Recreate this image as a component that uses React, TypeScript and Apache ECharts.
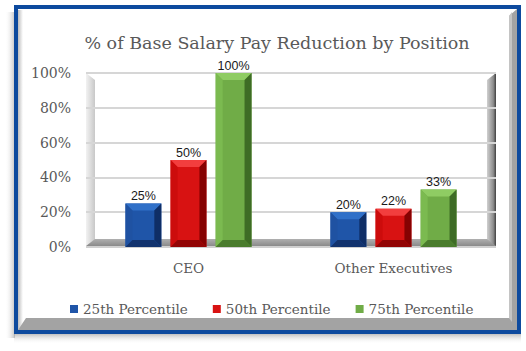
import React, { useEffect, useRef } from "react";
import * as echarts from "echarts";

const categories = ["CEO", "Other Executives"];
const seriesNames = ["25th Percentile", "50th Percentile", "75th Percentile"];
const p25 = [25, 20];
const p50 = [50, 22];
const p75 = [100, 33];
const yTicks = [0, 20, 40, 60, 80, 100];

const palettes = [
  { main: "#1F55A8", top: "#3070C8", left: "#1F52A2", right: "#0F2E66", bottom: "#12336E" },
  { main: "#D81212", top: "#F23E3E", left: "#CC0C0C", right: "#860202", bottom: "#920505" },
  { main: "#70AC47", top: "#8FCC63", left: "#7BBA50", right: "#3E6C25", bottom: "#4A7C2D" },
];

const SERIF = "'DejaVu Serif', serif";
const GREY = "#595959";

export default function App() {
  const ref = useRef<HTMLDivElement>(null);
  useEffect(() => {
    if (!ref.current) return;
    const chart = echarts.init(ref.current, null, { renderer: "svg" });
    const allValues = [p25, p50, p75];

    const makeSeries = (idx: number) => ({
      type: "custom",
      name: seriesNames[idx],
      itemStyle: { color: palettes[idx].main },
      encode: { x: 0, y: 1 },
      z: 5,
      data: allValues[idx].map((v, i) => [i, v]),
      renderItem: (params: any, api: any) => {
        const ci = api.value(0);
        const v = api.value(1);
        const topPt = api.coord([ci, v]);
        const basePt = api.coord([ci, 0]);
        const band = api.size([1, 0])[0];
        const w = band * 0.175;
        const cx = topPt[0] + (idx - 1) * band * 0.22;
        const x0 = cx - w / 2;
        const x1 = cx + w / 2;
        const y0 = topPt[1];
        const y1 = basePt[1];
        const b = Math.min(7, (y1 - y0) / 2, w / 2);
        const p = palettes[idx];
        return {
          type: "group",
          children: [
            { type: "rect", shape: { x: x0, y: y0, width: w, height: y1 - y0 }, style: { fill: p.main } },
            {
              type: "polygon",
              shape: { points: [[x0, y0], [x1, y0], [x1 - b, y0 + b], [x0 + b, y0 + b]] },
              style: { fill: p.top },
            },
            {
              type: "polygon",
              shape: { points: [[x0, y0], [x0 + b, y0 + b], [x0 + b, y1 - b], [x0, y1]] },
              style: { fill: p.left },
            },
            {
              type: "polygon",
              shape: { points: [[x1, y0], [x1, y1], [x1 - b, y1 - b], [x1 - b, y0 + b]] },
              style: { fill: p.right },
            },
            {
              type: "polygon",
              shape: { points: [[x0, y1], [x1, y1], [x1 - b, y1 - b], [x0 + b, y1 - b]] },
              style: { fill: p.bottom },
            },
            {
              type: "text",
              style: {
                x: cx,
                y: y0 - 1,
                text: v + "%",
                align: "center",
                verticalAlign: "bottom",
                fill: "#1a1a1a",
                font: "12.5px 'Liberation Sans', sans-serif",
              },
            },
          ],
        };
      },
    });

    const option: any = {
      animation: false,
      backgroundColor: "#ffffff",
      title: {
        text: "% of Base Salary Pay Reduction by Position",
        left: 272,
        top: 29,
        textAlign: "center",
        textStyle: { fontFamily: SERIF, fontSize: 17.5, fontWeight: "normal", color: GREY },
      },
      legend: {
        left: 65,
        top: 297,
        icon: "rect",
        itemWidth: 8,
        itemHeight: 8,
        itemGap: 25,
        textStyle: { fontFamily: SERIF, fontSize: 13.5, color: GREY },
        data: seriesNames,
      },
      grid: { left: 86, right: 30, top: 73, bottom: 104 },
      xAxis: {
        type: "category",
        data: categories,
        axisLine: { show: false },
        axisTick: { show: false },
        axisLabel: { margin: 14, fontFamily: SERIF, fontSize: 13.5, color: GREY },
      },
      yAxis: {
        type: "value",
        min: yTicks[0],
        max: yTicks[yTicks.length - 1],
        interval: 20,
        axisLabel: { formatter: "{value}%", margin: 15, fontFamily: SERIF, fontSize: 14, color: GREY },
        axisLine: { show: false },
        axisTick: { show: false },
        splitLine: { lineStyle: { color: "#D6D6D6", width: 2 } },
      },
      graphic: [
        // outer shadow
        {
          type: "rect", z: -10, silent: true,
          shape: { x: 5, y: 12, width: 10, height: 326 },
          style: { fill: new echarts.graphic.LinearGradient(0, 0, 1, 0, [{ offset: 0, color: "rgba(255,255,255,0)" }, { offset: 1, color: "rgba(150,150,150,0.6)" }]) },
        },
        {
          type: "rect", z: -10, silent: true,
          shape: { x: 14, y: 334, width: 507, height: 10 },
          style: { fill: new echarts.graphic.LinearGradient(0, 0, 0, 1, [{ offset: 0, color: "rgba(150,150,150,0.6)" }, { offset: 1, color: "rgba(255,255,255,0)" }]) },
        },
        // blue frame
        {
          type: "rect", z: -9, silent: true,
          shape: { x: 16, y: 7, width: 503, height: 325 },
          style: { fill: "#ffffff", stroke: "#0D4A9E", lineWidth: 4 },
        },
        // inner bevels
        {
          type: "rect", z: -8, silent: true,
          shape: { x: 18, y: 10, width: 5, height: 320 },
          style: { fill: new echarts.graphic.LinearGradient(0, 0, 1, 0, [{ offset: 0, color: "#BDBDBD" }, { offset: 1, color: "#FFFFFF" }]) },
        },
        {
          type: "polygon", z: -8, silent: true,
          shape: { points: [[517, 9], [517, 330], [18, 330], [26, 318], [509, 318], [509, 16]] },
          style: { fill: "#A3A3A3" },
        },
        {
          type: "polygon", z: -7, silent: true,
          shape: { points: [[509, 16], [509, 318], [512, 322], [512, 12]] },
          style: { fill: "#C4C4C4" },
        },
        // left wall
        {
          type: "polygon", z: -1, silent: true,
          shape: { points: [[86, 73], [95, 80], [95, 240], [86, 247]] },
          style: { fill: new echarts.graphic.LinearGradient(0, 0, 1, 0, [{ offset: 0, color: "#F2F2F2" }, { offset: 1, color: "#C8C8C8" }]) },
        },
        // right wall
        {
          type: "polygon", z: -1, silent: true,
          shape: { points: [[487, 80], [496, 73], [496, 247], [487, 240]] },
          style: { fill: new echarts.graphic.LinearGradient(0, 0, 1, 0, [{ offset: 0, color: "#D0D0D0" }, { offset: 0.7, color: "#8C8C8C" }, { offset: 1, color: "#404040" }]) },
        },
        // floor
        {
          type: "polygon", z: 1, silent: true,
          shape: { points: [[95, 239], [487, 239], [496, 246], [86, 246]] },
          style: { fill: new echarts.graphic.LinearGradient(0, 0, 0, 1, [{ offset: 0, color: "#B0B0B0" }, { offset: 1, color: "#8A8A8A" }]) },
        },
        {
          type: "rect", z: 1, silent: true,
          shape: { x: 86, y: 246, width: 410, height: 2 },
          style: { fill: "#D0D0D0" },
        },
      ],
      series: [makeSeries(0), makeSeries(1), makeSeries(2)],
    };
    chart.setOption(option);
    return () => chart.dispose();
  }, []);
  return <div ref={ref} style={{ position: "absolute", left: 0, top: 0, width: 526, height: 351 }} />;
}
